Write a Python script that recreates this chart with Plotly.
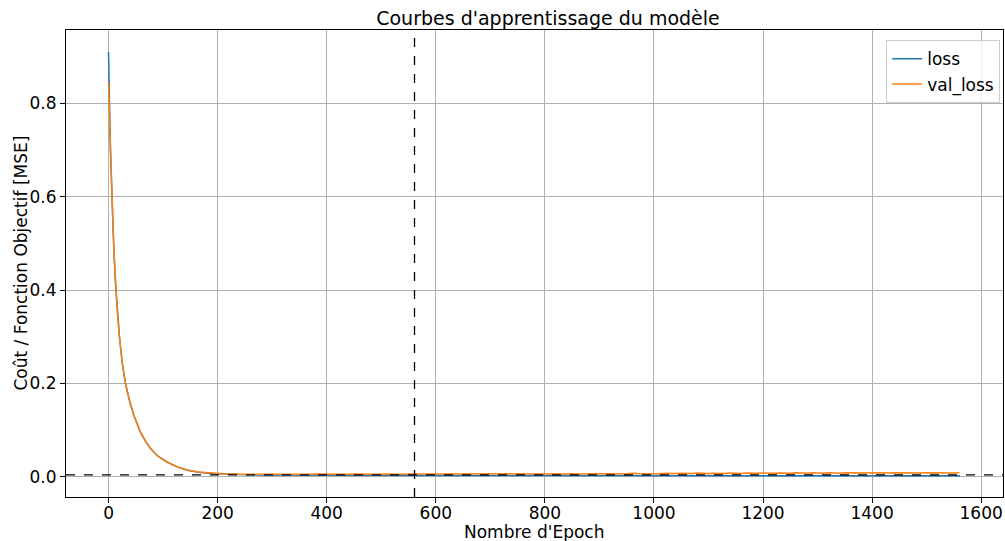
import plotly.graph_objects as go

# ---- data ----
epochs_early = [0, 1, 2, 3, 4, 6, 8, 10, 13, 16, 20, 25, 31, 38, 46, 58, 68, 77, 90,
                107, 125, 144, 165, 187, 210, 240, 280]
loss_early = [0.910, 0.800, 0.760, 0.720, 0.680, 0.600, 0.540, 0.480, 0.410, 0.355,
              0.300, 0.245, 0.200, 0.165, 0.133, 0.097, 0.076, 0.061, 0.045,
              0.032, 0.022, 0.0145, 0.0100, 0.0075, 0.0060, 0.0050, 0.0043]
val_early = [0.844, 0.800, 0.760, 0.720, 0.680, 0.600, 0.540, 0.480, 0.410, 0.355,
             0.300, 0.245, 0.200, 0.165, 0.133, 0.097, 0.076, 0.061, 0.045,
             0.032, 0.022, 0.0150, 0.0105, 0.0080, 0.0066, 0.0059, 0.0055]

epochs_loss_late = [400, 600, 800, 1000, 1200, 1400, 1561]
loss_late = [0.0036, 0.0032, 0.0029, 0.0027, 0.0025, 0.0024, 0.0023]

epochs_val_late = list(range(290, 1561, 10))
val_late = [
    0.0056, 0.0060, 0.0054, 0.0062, 0.0057, 0.0055, 0.0063, 0.0058, 0.0056, 0.0061,
    0.0059, 0.0055, 0.0064, 0.0057, 0.0060, 0.0058, 0.0062, 0.0056, 0.0065, 0.0059,
    0.0057, 0.0063, 0.0060, 0.0058, 0.0066, 0.0059, 0.0061, 0.0057, 0.0064, 0.0060, 0.0062,
    0.0063, 0.0058, 0.0067, 0.0061, 0.0060, 0.0066, 0.0062, 0.0059, 0.0068, 0.0063,
    0.0061, 0.0069, 0.0064, 0.0062, 0.0070, 0.0063, 0.0066, 0.0062, 0.0071, 0.0065,
    0.0064, 0.0070, 0.0066, 0.0063, 0.0072, 0.0067, 0.0065, 0.0074, 0.0068, 0.0066,
    0.0075, 0.0069, 0.0067, 0.0076, 0.0070, 0.0068, 0.0078, 0.0071, 0.0069, 0.0077,
    0.0072, 0.0070, 0.0080, 0.0073, 0.0071, 0.0079, 0.0074, 0.0072, 0.0082, 0.0075,
    0.0073, 0.0081, 0.0076, 0.0074, 0.0083, 0.0077, 0.0075, 0.0084, 0.0078, 0.0076,
    0.0085, 0.0079, 0.0077, 0.0086, 0.0080, 0.0078, 0.0087, 0.0081, 0.0079, 0.0088,
    0.0082, 0.0080, 0.0089, 0.0083, 0.0081, 0.0088, 0.0084, 0.0082, 0.0090, 0.0085,
    0.0083, 0.0091, 0.0085, 0.0084, 0.0090, 0.0086, 0.0084, 0.0092, 0.0087, 0.0085,
    0.0091, 0.0087, 0.0085, 0.0092, 0.0088, 0.0086, 0.0090,
]

best_epoch = 561
ref_level = 0.0045

epochs_loss = epochs_early + epochs_loss_late
loss = loss_early + loss_late
epochs_val = epochs_early + epochs_val_late
val_loss = val_early + val_late

FONT = "DejaVu Sans"
W, H = 1005, 541
ML, MR, MT, MB = 66, 2, 30, 44
PW, PH = W - ML - MR, H - MT - MB

fig = go.Figure()
fig.add_trace(go.Scatter(x=epochs_loss, y=loss, mode="lines", name="loss",
                         line=dict(color="#1f77b4", width=1.5)))
fig.add_trace(go.Scatter(x=epochs_val, y=val_loss, mode="lines", name="val_loss",
                         line=dict(color="#ff7f0e", width=1.5)))

fig.add_shape(type="line", xref="x", yref="paper", x0=best_epoch, x1=best_epoch, y0=0, y1=1,
              line=dict(color="black", width=1.3, dash="dash"))
fig.add_shape(type="line", xref="paper", yref="y", x0=0, x1=1, y0=ref_level, y1=ref_level,
              line=dict(color="black", width=1.3, dash="dash"))

axis_common = dict(
    showline=True, mirror=True, linecolor="black", linewidth=1,
    ticks="outside", ticklen=5, tickcolor="black", tickwidth=1,
    showgrid=True, gridcolor="#b0b0b0", gridwidth=1, zeroline=False,
    tickfont=dict(family=FONT, size=17, color="black"), automargin=False,
)

# axis titles as annotations for exact placement
fig.add_annotation(text="Nombre d'Epoch", xref="paper", yref="paper",
                   x=(534 - ML) / PW, y=-(532 - (H - MB)) / PH,
                   xanchor="center", yanchor="middle", showarrow=False,
                   font=dict(family=FONT, size=17, color="black"))
fig.add_annotation(text="Coût / Fonction Objectif [MSE]", xref="paper", yref="paper",
                   x=(20 - ML) / PW, y=0.5, textangle=-90,
                   xanchor="center", yanchor="middle", showarrow=False,
                   font=dict(family=FONT, size=17, color="black"))

fig.update_layout(
    width=W, height=H,
    margin=dict(l=ML, r=MR, t=MT, b=MB),
    paper_bgcolor="white", plot_bgcolor="white",
    font=dict(family=FONT, size=17, color="black"),
    title=dict(text="Courbes d'apprentissage du modèle", x=548/W, xanchor="center",
               xref="container", y=1 - 18/H, yanchor="middle", yref="container",
               font=dict(family=FONT, size=19, color="black")),
    xaxis=dict(range=[-78, 1640], dtick=200, tick0=0, ticklabelstandoff=-4,
               **axis_common),
    yaxis=dict(range=[-0.043, 0.957], dtick=0.2, tick0=0, tickformat=".1f",
               **axis_common),
    legend=dict(x=0.997, xanchor="right", y=0.978, yanchor="top",
                bgcolor="rgba(255,255,255,0.8)", bordercolor="#cccccc", borderwidth=1,
                font=dict(family=FONT, size=17, color="black")),
    showlegend=True,
)

fig.write_html("out.html", config={"displayModeBar": False},
               post_script="document.body.style.margin='0';document.body.style.overflow='hidden';")
